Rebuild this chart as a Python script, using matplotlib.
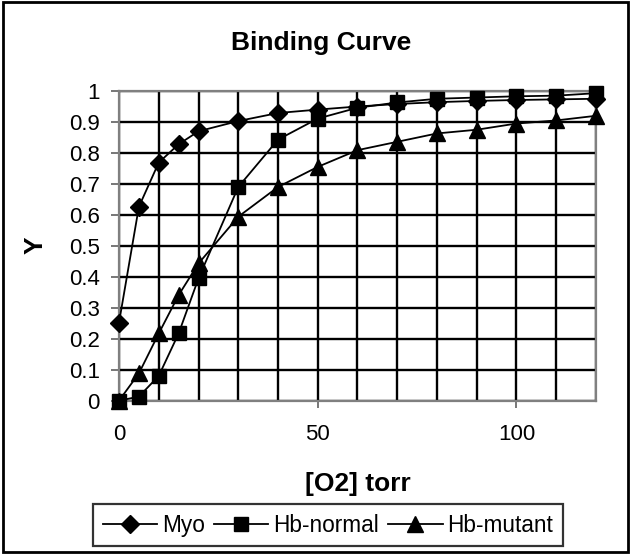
import matplotlib
matplotlib.use("Agg")
import matplotlib.pyplot as plt
from matplotlib.patches import Rectangle
from matplotlib.ticker import MultipleLocator

plt.rcParams['font.family'] = ['Liberation Sans', 'DejaVu Sans']

x = [0, 5, 10, 15, 20, 30, 40, 50, 60, 70, 80, 90, 100, 110, 120]
myo = [0.252, 0.626, 0.769, 0.828, 0.870, 0.903, 0.929, 0.940, 0.950, 0.958, 0.964, 0.968, 0.971, 0.973, 0.975]
hb_normal = [0.0, 0.013, 0.08, 0.217, 0.395, 0.69, 0.843, 0.911, 0.946, 0.963, 0.975, 0.979, 0.983, 0.985, 0.993]
hb_mutant = [0.0, 0.088, 0.217, 0.341, 0.443, 0.594, 0.69, 0.755, 0.809, 0.836, 0.863, 0.875, 0.895, 0.905, 0.92]
ytick_labels = ['0', '0.1', '0.2', '0.3', '0.4', '0.5', '0.6', '0.7', '0.8', '0.9', '1']

fig = plt.figure(figsize=(6.31, 5.54), dpi=100)
ax = fig.add_axes([0.1886, 0.2768, 0.9445 - 0.1886, 0.8357 - 0.2768])

ax.set_xlim(0, 120)
ax.set_ylim(0, 1)
ax.xaxis.set_major_locator(MultipleLocator(50))
ax.xaxis.set_minor_locator(MultipleLocator(10))
ax.set_yticks([i / 10 for i in range(len(ytick_labels))])
ax.set_yticklabels(ytick_labels)

ax.grid(True, which='both', axis='x', color='black', linewidth=1.7)
ax.grid(True, which='major', axis='y', color='black', linewidth=1.7)
ax.set_axisbelow(True)

ax.tick_params(axis='y', which='major', direction='out', length=5.8, width=1.2, labelsize=16, pad=8, color='#606060')
ax.tick_params(axis='x', which='major', direction='out', length=5, width=1.2, labelsize=16, pad=12, color='#606060')
ax.tick_params(axis='x', which='minor', length=0)
for s in ax.spines.values():
    s.set_color('#808080')
    s.set_linewidth(1.6)

ax.plot(x, myo, color='black', lw=1.3, marker='D', ms=8.8, mfc='black', mec='black', label='Myo', clip_on=False, zorder=3)
ax.plot(x, hb_normal, color='black', lw=1.3, marker='s', ms=10.5, mfc='black', mec='black', label='Hb-normal', clip_on=False, zorder=3)
ax.plot(x, hb_mutant, color='black', lw=1.3, marker='^', ms=11.5, mfc='black', mec='black', label='Hb-mutant', clip_on=False, zorder=3)

fig.text(0.5095, 0.922, 'Binding Curve', ha='center', va='center', fontsize=19, fontweight='bold')
fig.text(0.057, 0.558, 'Y', ha='center', va='center', fontsize=19, fontweight='bold', rotation=90)
fig.text(0.567, 0.126, '[O2] torr', ha='center', va='center', fontsize=19, fontweight='bold')

leg = fig.legend(loc='center', bbox_to_anchor=(0.52, 0.052), ncol=3, fontsize=16.3, frameon=True,
                 fancybox=False, edgecolor='black', handlelength=2.4, handletextpad=0.22, columnspacing=0.4,
                 borderpad=0.42, borderaxespad=0)
leg.get_frame().set_linewidth(1.6)

fig.patches.append(Rectangle((0.004, 0.004), 0.992, 0.992, transform=fig.transFigure, fill=False,
                             edgecolor='black', linewidth=2))

fig.savefig('out.png', dpi=100)
